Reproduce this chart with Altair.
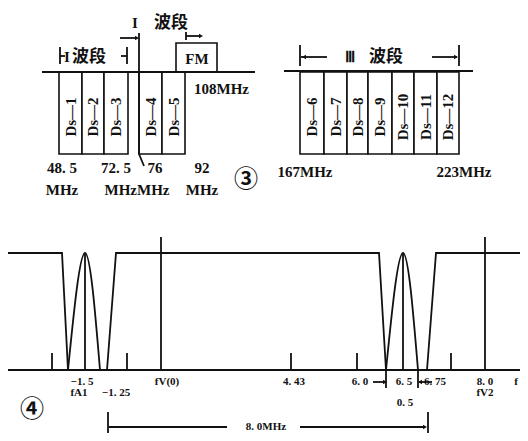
import altair as alt
import pandas as pd

# ---------------- data (diagram coordinates, px-like units) ----------------
# Panel 3: TV channel boxes
band1_labels = ["Ds—1", "Ds—2", "Ds—3", "Ds—4", "Ds—5"]
band1_left = [59, 82, 104, 139, 162]
band1_right = [82, 104, 128, 162, 185]
band3_labels = ["Ds—6", "Ds—7", "Ds—8", "Ds—9", "Ds—10", "Ds—11", "Ds—12"]
band3_edges = [300, 324, 347, 368, 392, 414, 437, 459]
box_top, box_bottom = 72, 154
fm_box = dict(x=176, x2=217, y=43, y2=72)

# straight segments: x, y, x2, y2
seg_x = [42, 284, 139, 139, 120, 60, 60, 121, 127, 186, 186, 300, 301, 432, 459,
         8, 161, 485, 85, 403, 386, 418, 373, 419, 108, 428, 109, 300]
seg_y = [72, 71, 33, 154, 38, 47, 56, 56, 47, 32, 36, 45, 57, 57, 45,
         370, 237, 237, 253, 253, 370, 370, 382, 382, 412, 412, 427, 427]
seg_x2 = [255, 473, 139, 144, 136, 60, 65, 127, 127, 186, 200, 300, 327, 457, 459,
          528, 161, 485, 85, 403, 386, 418, 384, 432, 108, 428, 227, 425]
seg_y2 = [72, 71, 154, 166, 38, 64, 56, 56, 64, 40, 36, 66, 57, 57, 66,
          370, 370, 370, 370, 370, 388, 388, 382, 382, 441, 441, 427, 427]

# small marker ticks on the spectrum baseline
tick_x = [52, 127, 291, 357, 451]
tick_top, tick_bottom = 353, 370

# spectrum envelope (flat passband with two traps)
env_group = [0, 0, 0, 1, 1, 1, 1, 2, 2, 2]
env_x = [8, 62, 68, 107, 116, 379, 386, 427, 436, 528]
env_y = [253, 253, 370, 370, 253, 253, 370, 370, 253, 253]

# sound-carrier arches
arch_group = [0, 0, 0, 1, 1, 1]
arch_x = [68, 85, 100, 386, 403, 418]
arch_y = [370, 253, 370, 370, 253, 370]

# arrow heads
arrow_x = [137, 201, 304, 456, 385, 420, 425]
arrow_y = [38, 36, 57, 57, 382, 382, 427]
arrow_shape = ["triangle-right", "triangle-right", "triangle-left", "triangle-right",
               "triangle-right", "triangle-left", "triangle-right"]

# labels
big_text = ["48. 5", "MHz", "72. 5", "MHzMHz", "76", "92", "MHz", "167MHz", "223MHz", "FM"]
big_x = [62, 62, 116, 137, 155, 202, 202, 305, 464, 197]
big_y = [168, 190, 168, 190, 168, 168, 190, 172, 172, 59]

small_text = ["−1. 5", "−1. 25", "fV(0)", "4. 43", "6. 0", "6. 5", "6. 75", "8. 0",
              "fV2", "fA1", "f", "0. 5", "8. 0MHz"]
small_x = [82, 116, 167, 294, 360, 404, 435, 485, 485, 79, 516, 405, 266]
small_y = [382, 393, 382, 382, 382, 382, 382, 382, 393, 393, 382, 403, 427]

band_names = ["波段", "波段", "波段"]
band_name_x = [89, 171, 386]
band_name_y = [57, 23, 57]
roman = ["I", "I", "Ⅲ"]
roman_x = [67, 135, 350]
roman_y = [57, 23, 57]

circled = ["③", "④"]
circled_x = [246, 32]
circled_y = [180, 410]

# ---------------- build tables ----------------
boxes = pd.DataFrame({
    "label": band1_labels + band3_labels,
    "x": band1_left + band3_edges[:-1],
    "x2": band1_right + band3_edges[1:],
})
boxes["y"] = box_top
boxes["y2"] = box_bottom
boxes["cx"] = (boxes["x"] + boxes["x2"]) / 2
boxes["cy"] = 117

segs = pd.DataFrame({"x": seg_x, "y": seg_y, "x2": seg_x2, "y2": seg_y2})
ticks = pd.DataFrame({"x": tick_x, "y": tick_top, "y2": tick_bottom})
env = pd.DataFrame({"g": env_group, "x": env_x, "y": env_y, "o": range(len(env_x))})
arch = pd.DataFrame({"g": arch_group, "x": arch_x, "y": arch_y, "o": range(len(arch_x))})
arrows = pd.DataFrame({"x": arrow_x, "y": arrow_y, "shape": arrow_shape})
bigt = pd.DataFrame({"x": big_x, "y": big_y, "t": big_text})
smallt = pd.DataFrame({"x": small_x, "y": small_y, "t": small_text})
cjk = pd.DataFrame({"x": band_name_x, "y": band_name_y, "t": band_names})
rom = pd.DataFrame({"x": roman_x, "y": roman_y, "t": roman})
circ = pd.DataFrame({"x": circled_x, "y": circled_y, "t": circled})
fm = pd.DataFrame([fm_box])
mhz108 = pd.DataFrame({"x": [194], "y": [89], "t": ["108MHz"]})

W, H = 512, 425
xs = alt.Scale(domain=[8, 8 + W], nice=False, zero=False)
ys = alt.Scale(domain=[8, 8 + H], nice=False, zero=False, reverse=True)
X = alt.X("x:Q", scale=xs, axis=None)
Y = alt.Y("y:Q", scale=ys, axis=None)

SERIF = "Liberation Serif"
INK = "#111111"

rects = alt.Chart(boxes).mark_rect(fill="white", stroke=INK, strokeWidth=1.6).encode(
    x=X, x2="x2", y=Y, y2="y2")
fmrect = alt.Chart(fm).mark_rect(fill="white", stroke=INK, strokeWidth=1.6).encode(
    x=X, x2="x2", y=Y, y2="y2")
ds_text = alt.Chart(boxes).mark_text(angle=270, font=SERIF, fontWeight="bold",
                                     fontSize=15, color=INK, baseline="middle").encode(
    x=alt.X("cx:Q", scale=xs, axis=None), y=alt.Y("cy:Q", scale=ys, axis=None), text="label")
rules = alt.Chart(segs).mark_rule(color=INK, strokeWidth=1.8).encode(
    x=X, y=Y, x2="x2", y2="y2")
tick_rules = alt.Chart(ticks).mark_rule(color=INK, strokeWidth=1.8).encode(
    x=X, y=Y, y2="y2")
env_line = alt.Chart(env).mark_line(color=INK, strokeWidth=1.8).encode(
    x=X, y=Y, detail="g:N", order="o:Q")
arch_line = alt.Chart(arch).mark_line(color=INK, strokeWidth=1.8, interpolate="natural").encode(
    x=X, y=Y, detail="g:N", order="o:Q")
heads = alt.Chart(arrows).mark_point(filled=True, color=INK, size=22, opacity=1).encode(
    x=X, y=Y, shape=alt.Shape("shape:N", scale=None))
big = alt.Chart(bigt).mark_text(font=SERIF, fontWeight="bold", fontSize=15, color=INK,
                                baseline="middle").encode(x=X, y=Y, text="t")
m108 = alt.Chart(mhz108).mark_text(font=SERIF, fontWeight="bold", fontSize=15, color=INK,
                                   baseline="middle", align="left").encode(x=X, y=Y, text="t")
small = alt.Chart(smallt).mark_text(font=SERIF, fontWeight="bold", fontSize=11, color=INK,
                                    baseline="middle").encode(x=X, y=Y, text="t")
cjk_t = alt.Chart(cjk).mark_text(font="Noto Sans CJK SC", fontWeight="bold", fontSize=17,
                                 color=INK, baseline="middle").encode(x=X, y=Y, text="t")
rom_t = alt.Chart(rom).mark_text(font=SERIF, fontWeight="bold", fontSize=15, color=INK,
                                 baseline="middle").encode(x=X, y=Y, text="t")
circ_t = alt.Chart(circ).mark_text(font="Noto Sans CJK SC", fontWeight="bold", fontSize=24,
                                   color=INK, baseline="middle").encode(x=X, y=Y, text="t")

chart = alt.layer(
    rects, fmrect, ds_text, rules, tick_rules, env_line, arch_line, heads,
    big, m108, small, cjk_t, rom_t, circ_t
).properties(
    width=W, height=H, padding=0, autosize=alt.AutoSizeParams(type="none"),
    background="white"
).configure_view(stroke=None)

chart.save("out.html", embed_options={"renderer": "svg", "actions": False})
